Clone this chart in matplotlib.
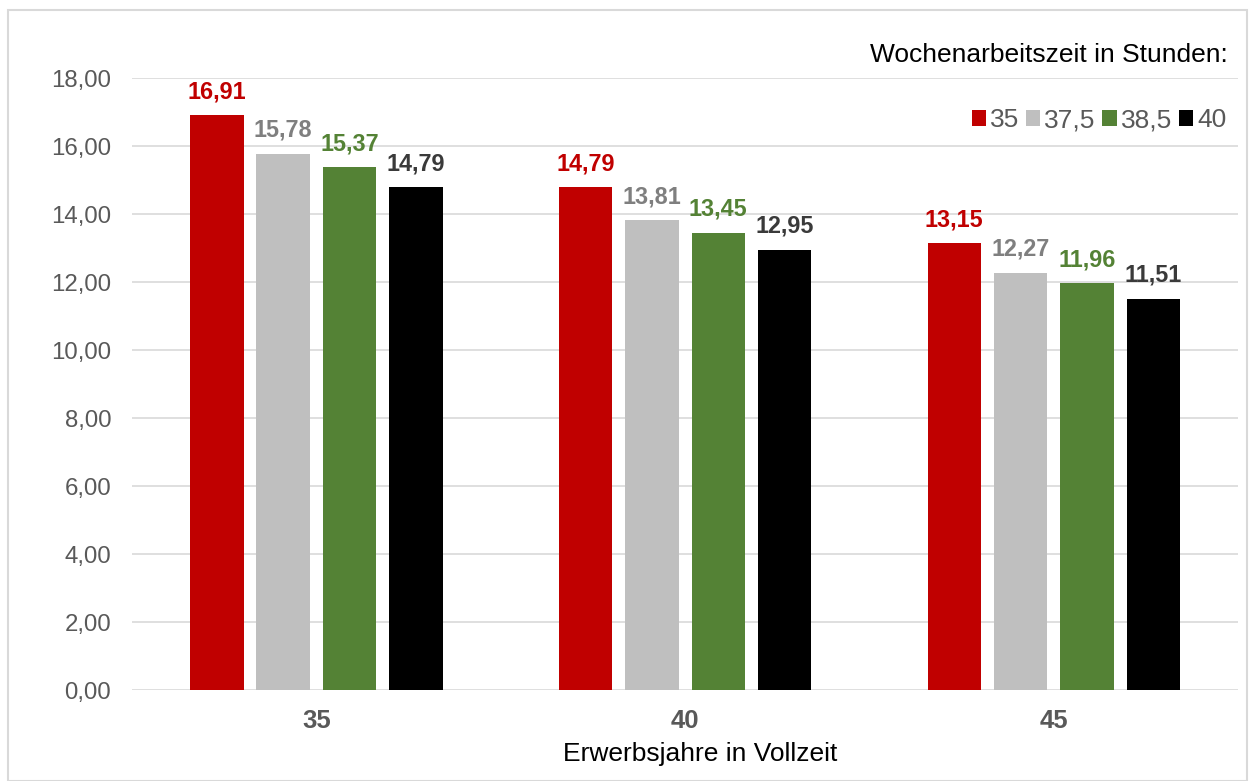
import matplotlib

matplotlib.use("Agg")
import matplotlib.pyplot as plt
from matplotlib.patches import Rectangle
import numpy as np

plt.rcParams["font.family"] = ["Liberation Sans", "DejaVu Sans"]

groups = ["35", "40", "45"]
series = ["35", "37,5", "38,5", "40"]
values = [
    [16.91, 14.79, 13.15],
    [15.78, 13.81, 12.27],
    [15.37, 13.45, 11.96],
    [14.79, 12.95, 11.51],
]
bar_colors = ["#C00000", "#BFBFBF", "#548235", "#000000"]
label_colors = ["#C00000", "#7F7F7F", "#548235", "#3A3A3A"]
yticks = np.arange(0, 18.01, 2)

fig = plt.figure(figsize=(12.52, 7.81), dpi=100)
ax = fig.add_axes([0.1054, 0.1165, 0.8836, 0.7836])

x = np.arange(len(groups))
step = 0.18
width = 0.145
for i, (name, vals) in enumerate(zip(series, values)):
    pos = x + (i - 1.5) * step
    ax.bar(pos, vals, width=width, color=bar_colors[i], label=name, zorder=3)
    for px, v in zip(pos, vals):
        ax.text(px, v + 0.35, f"{v:.2f}".replace(".", ","), ha="center", va="bottom",
                fontsize=16.8, fontweight="bold", color=label_colors[i])

ax.set_xlim(-0.5, 2.5)
ax.set_ylim(0, 18)
ax.set_yticks(yticks)
ax.set_yticklabels([f"{t:.2f}".replace(".", ",") for t in yticks], fontsize=17.3, color="#595959")
ax.set_xticks(x)
ax.set_xticklabels(groups, fontsize=18.5, fontweight="bold", color="#595959")
ax.tick_params(axis="both", length=0)
ax.tick_params(axis="y", pad=15)
ax.tick_params(axis="x", pad=14)
ax.grid(axis="y", color="#D9D9D9", linewidth=1.2, zorder=0)
for s in ax.spines.values():
    s.set_visible(False)
ax.set_xlabel("Erwerbsjahre in Vollzeit", fontsize=19, color="#000000")
ax.xaxis.set_label_coords(0.5136, -0.085)

leg = ax.legend(loc="upper right", bbox_to_anchor=(0.988, 0.875), bbox_transform=fig.transFigure,
                ncol=4, frameon=False, fontsize=19, handlelength=0.55, handleheight=0.55,
                handletextpad=0.15, columnspacing=0.25, borderaxespad=0)
for t in leg.get_texts():
    t.set_color("#595959")

fig.text(0.981, 0.93, "Wochenarbeitszeit in Stunden:", ha="right", va="center", fontsize=19, color="#000000")

fig.patches.append(Rectangle((0.006, 0.0), 0.99, 0.987, transform=fig.transFigure,
                             fill=False, edgecolor="#D9D9D9", linewidth=1.5))

fig.savefig("out.png", dpi=100)
